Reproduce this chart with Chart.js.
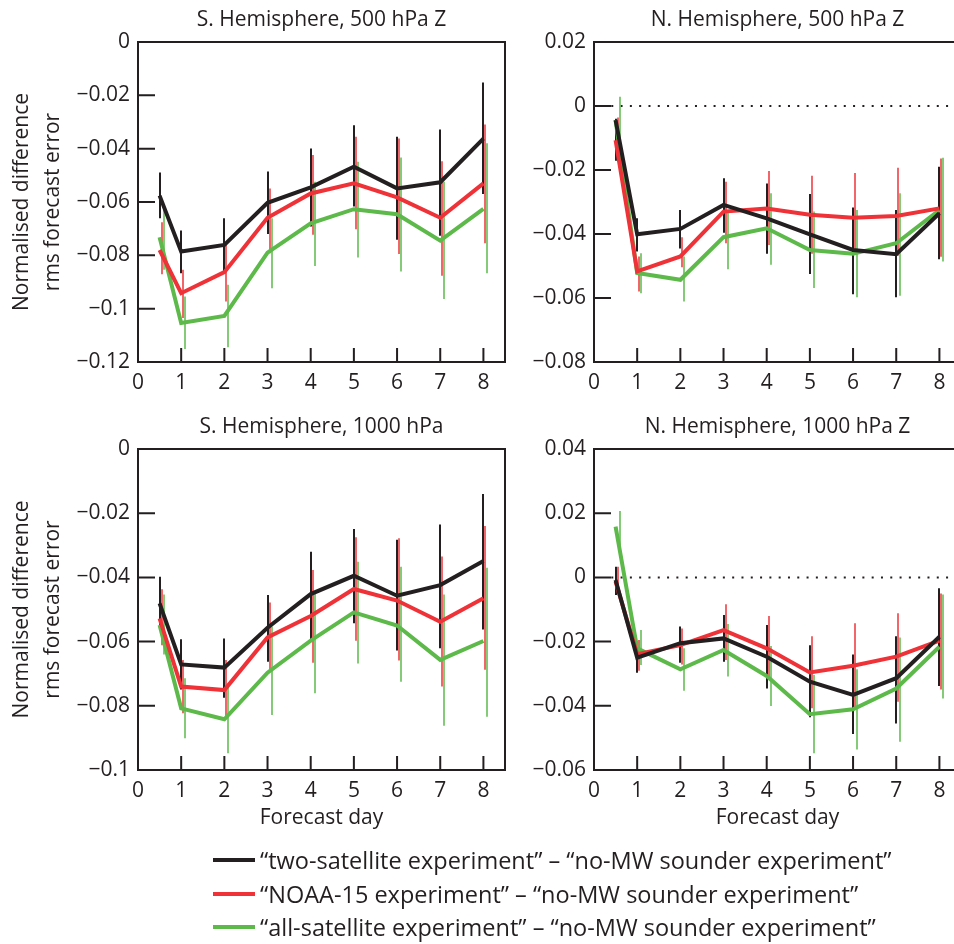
<!DOCTYPE html>
<html>
<head>
<meta charset="utf-8">
<script src="https://cdn.jsdelivr.net/npm/chart.js@4.4.1/dist/chart.umd.min.js"></script>
<style>
  body { margin: 0; width: 954px; height: 944px; overflow: hidden; background: #fff; position: relative; font-family: 'Open Sans', sans-serif; color: #231f20; }
  canvas { position: absolute; }
  .key { position: absolute; left: 213px; width: 42px; height: 4px; }
  .lbl { position: absolute; left: 260px; font-size: 23.5px; line-height: 30px; white-space: nowrap; }
</style>
</head>
<body>
<canvas id="sh500" width="520" height="420" style="left:0;top:0"></canvas>
<canvas id="nh500" width="520" height="420" style="left:456px;top:0"></canvas>
<canvas id="sh1000" width="520" height="440" style="left:0;top:407px"></canvas>
<canvas id="nh1000" width="520" height="440" style="left:456px;top:407px"></canvas>

<div class="key" style="top:858px;background:#231f20"></div>
<div class="lbl" style="top:845px">“two-satellite experiment” – “no-MW sounder experiment”</div>
<div class="key" style="top:892px;background:#ee3237"></div>
<div class="lbl" style="top:879px">“NOAA-15 experiment” – “no-MW sounder experiment”</div>
<div class="key" style="top:925px;background:#5db94a"></div>
<div class="lbl" style="top:912px">“all-satellite experiment” – “no-MW sounder experiment”</div>

<script>
// forecast days
const days = [0.5, 1, 2, 3, 4, 5, 6, 7, 8];

// S. Hemisphere, 500 hPa Z
const sh500Two   = [-0.0576, -0.0786, -0.0761, -0.0603, -0.0545, -0.0468, -0.0549, -0.0526, -0.0362];
const sh500TwoLo = [-0.0661, -0.0867, -0.0867, -0.0720, -0.0692, -0.0617, -0.0742, -0.0727, -0.0570];
const sh500TwoHi = [-0.0489, -0.0707, -0.0661, -0.0486, -0.0399, -0.0312, -0.0355, -0.0328, -0.0152];
const sh500Noaa   = [-0.0780, -0.0942, -0.0863, -0.0659, -0.0568, -0.0530, -0.0583, -0.0659, -0.0530];
const sh500NoaaLo = [-0.0871, -0.1035, -0.0973, -0.0792, -0.0723, -0.0702, -0.0795, -0.0877, -0.0755];
const sh500NoaaHi = [-0.0676, -0.0854, -0.0761, -0.0549, -0.0424, -0.0355, -0.0362, -0.0447, -0.0309];
const sh500All   = [-0.0732, -0.1054, -0.1027, -0.0790, -0.0680, -0.0627, -0.0646, -0.0745, -0.0626];
const sh500AllLo = [-0.0854, -0.1151, -0.1145, -0.0923, -0.0840, -0.0808, -0.0861, -0.0964, -0.0867];
const sh500AllHi = [-0.0617, -0.0954, -0.0910, -0.0661, -0.0524, -0.0449, -0.0433, -0.0524, -0.0380];

// N. Hemisphere, 500 hPa Z
const nh500Two   = [-0.0044, -0.0401, -0.0384, -0.0309, -0.0351, -0.0401, -0.0450, -0.0463, -0.0335];
const nh500TwoLo = [-0.0171, -0.0455, -0.0445, -0.0396, -0.0462, -0.0525, -0.0588, -0.0598, -0.0479];
const nh500TwoHi = [-0.0040, -0.0351, -0.0325, -0.0226, -0.0242, -0.0275, -0.0317, -0.0325, -0.0190];
const nh500Noaa   = [-0.0107, -0.0517, -0.0470, -0.0330, -0.0320, -0.0340, -0.0349, -0.0344, -0.0320];
const nh500NoaaLo = [-0.0150, -0.0580, -0.0504, -0.0429, -0.0434, -0.0462, -0.0462, -0.0468, -0.0471];
const nh500NoaaHi = [-0.0036, -0.0470, -0.0410, -0.0237, -0.0203, -0.0218, -0.0209, -0.0193, -0.0164];
const nh500All   = [-0.0044, -0.0522, -0.0543, -0.0410, -0.0382, -0.0450, -0.0462, -0.0429, -0.0325];
const nh500AllLo = [-0.0122, -0.0585, -0.0611, -0.0510, -0.0496, -0.0569, -0.0598, -0.0593, -0.0486];
const nh500AllHi = [ 0.0029, -0.0460, -0.0470, -0.0325, -0.0273, -0.0330, -0.0325, -0.0273, -0.0162];

// S. Hemisphere, 1000 hPa
const sh1000Two   = [-0.0481, -0.0671, -0.0681, -0.0557, -0.0452, -0.0395, -0.0457, -0.0424, -0.0349];
const sh1000TwoLo = [-0.0553, -0.0749, -0.0775, -0.0663, -0.0592, -0.0543, -0.0628, -0.0621, -0.0562];
const sh1000TwoHi = [-0.0398, -0.0593, -0.0590, -0.0455, -0.0320, -0.0249, -0.0283, -0.0235, -0.0140];
const sh1000Noaa   = [-0.0528, -0.0740, -0.0751, -0.0587, -0.0520, -0.0436, -0.0472, -0.0538, -0.0465];
const sh1000NoaaLo = [-0.0611, -0.0823, -0.0842, -0.0688, -0.0666, -0.0597, -0.0659, -0.0740, -0.0688];
const sh1000NoaaHi = [-0.0437, -0.0657, -0.0657, -0.0478, -0.0377, -0.0275, -0.0278, -0.0335, -0.0240];
const sh1000All   = [-0.0548, -0.0808, -0.0842, -0.0697, -0.0597, -0.0509, -0.0550, -0.0657, -0.0598];
const sh1000AllLo = [-0.0640, -0.0901, -0.0948, -0.0829, -0.0761, -0.0668, -0.0725, -0.0862, -0.0834];
const sh1000AllHi = [-0.0453, -0.0714, -0.0730, -0.0553, -0.0450, -0.0351, -0.0367, -0.0453, -0.0370];

// N. Hemisphere, 1000 hPa Z
const nh1000Two   = [-0.0008, -0.0250, -0.0205, -0.0190, -0.0247, -0.0325, -0.0366, -0.0314, -0.0185];
const nh1000TwoLo = [-0.0055, -0.0297, -0.0266, -0.0263, -0.0346, -0.0436, -0.0488, -0.0455, -0.0338];
const nh1000TwoHi = [ 0.0033, -0.0200, -0.0153, -0.0117, -0.0148, -0.0211, -0.0240, -0.0183, -0.0034];
const nh1000Noaa   = [-0.0013, -0.0239, -0.0211, -0.0164, -0.0221, -0.0296, -0.0275, -0.0247, -0.0197];
const nh1000NoaaLo = [-0.0050, -0.0291, -0.0271, -0.0257, -0.0318, -0.0408, -0.0408, -0.0387, -0.0349];
const nh1000NoaaHi = [ 0.0033, -0.0195, -0.0159, -0.0084, -0.0120, -0.0183, -0.0143, -0.0112, -0.0050];
const nh1000All   = [ 0.0158, -0.0221, -0.0286, -0.0226, -0.0307, -0.0426, -0.0411, -0.0346, -0.0216];
const nh1000AllLo = [ 0.0101, -0.0273, -0.0353, -0.0309, -0.0401, -0.0548, -0.0536, -0.0512, -0.0377];
const nh1000AllHi = [ 0.0207, -0.0164, -0.0221, -0.0145, -0.0214, -0.0304, -0.0286, -0.0187, -0.0053];

const ink = '#231f20';
const red = '#ee3237';
const green = '#5db94a';
const family = "'Open Sans', sans-serif";

// vertical error bars, dotted zero line, closed frame with inward ticks
const framePlugin = {
  id: 'frame',
  beforeDatasetsDraw(chart, args, opts) {
    const { ctx, chartArea: a, scales: { x, y } } = chart;
    ctx.save();
    if (opts.zero) {
      const y0 = y.getPixelForValue(0);
      ctx.setLineDash([2, 7.3]);
      ctx.lineWidth = 2;
      ctx.strokeStyle = ink;
      ctx.beginPath();
      ctx.moveTo(x.getPixelForValue(0.4), y0);
      ctx.lineTo(a.right, y0);
      ctx.stroke();
      ctx.setLineDash([]);
    }
    chart.data.datasets.forEach(ds => {
      ctx.strokeStyle = ds.borderColor;
      ctx.lineWidth = ds.barWidth;
      ds.data.forEach((p, j) => {
        const px = Math.round(x.getPixelForValue(p.x)) + ds.shift;
        ctx.beginPath();
        ctx.moveTo(px, y.getPixelForValue(ds.lo[j]));
        ctx.lineTo(px, y.getPixelForValue(ds.hi[j]));
        ctx.stroke();
      });
    });
    ctx.restore();
  },
  afterDraw(chart) {
    const { ctx, chartArea: a, scales: { x, y } } = chart;
    ctx.save();
    ctx.strokeStyle = ink;
    ctx.lineWidth = 2;
    ctx.beginPath();
    x.ticks.forEach(t => {
      const px = x.getPixelForValue(t.value);
      ctx.moveTo(px, a.bottom);
      ctx.lineTo(px, a.bottom - 14);
    });
    y.ticks.forEach(t => {
      const py = y.getPixelForValue(t.value);
      ctx.moveTo(a.left, py);
      ctx.lineTo(a.left + 17, py);
    });
    ctx.stroke();
    ctx.strokeRect(a.left, a.top, a.right - a.left, a.bottom - a.top);
    ctx.restore();
  }
};

function series(label, vals, lo, hi, color, shift, barWidth) {
  return {
    label,
    data: days.map((d, i) => ({ x: d, y: vals[i] })),
    lo, hi, shift, barWidth,
    borderColor: color,
    borderWidth: 4,
    pointRadius: 0,
    tension: 0,
    fill: false
  };
}

function fmt(v) {
  const r = Math.round(v * 100) / 100;
  if (r === 0) return '0';
  return String(r).replace('-', '\u2212');
}

function panel(id, title, ymin, ymax, left, bottom, zero, two, noaa, all) {
  new Chart(document.getElementById(id), {
    type: 'line',
    data: {
      datasets: [
        series('two-satellite', two[0], two[1], two[2], ink, 0, 2),
        series('NOAA-15', noaa[0], noaa[1], noaa[2], red, 2, 1.5),
        series('all-satellite', all[0], all[1], all[2], green, 4, 1.5)
      ]
    },
    options: {
      responsive: false,
      animation: false,
      devicePixelRatio: 1,
      layout: { padding: { left: 0, right: 15, top: 0, bottom: 0 } },
      plugins: {
        legend: { display: false },
        tooltip: { enabled: false },
        title: {
          display: true, text: title, fullSize: false, color: ink,
          font: { family, size: 21, weight: 'normal' },
          padding: { top: 7.4, bottom: 9.4 }
        },
        frame: { zero }
      },
      scales: {
        x: {
          type: 'linear', min: 0, max: 8.5,
          grid: { display: false, drawTicks: false },
          border: { display: false },
          ticks: { stepSize: 1, includeBounds: false, padding: 8, color: ink, font: { family, size: 21 } },
          title: {
            display: bottom, text: 'Forecast day', color: ink,
            font: { family, size: 21 }, padding: { top: 0, bottom: 16 }
          },
          afterFit: s => { s.height = bottom ? 77 : 58; }
        },
        y: {
          min: ymin, max: ymax,
          grid: { display: false, drawTicks: false },
          border: { display: false },
          ticks: { stepSize: 0.02, padding: 8, color: ink, font: { family, size: 21 }, callback: fmt },
          title: {
            display: left, text: ['Normalised difference', 'rms forecast error'], color: ink,
            font: { family, size: 21, lineHeight: 1.43 }, padding: { top: 7.5, bottom: 0 }
          },
          afterFit: s => { s.width = 138; }
        }
      }
    },
    plugins: [framePlugin]
  });
}

panel('sh500', 'S. Hemisphere, 500 hPa Z', -0.12, 0, true, false, false,
  [sh500Two, sh500TwoLo, sh500TwoHi], [sh500Noaa, sh500NoaaLo, sh500NoaaHi], [sh500All, sh500AllLo, sh500AllHi]);
panel('nh500', 'N. Hemisphere, 500 hPa Z', -0.08, 0.02, false, false, true,
  [nh500Two, nh500TwoLo, nh500TwoHi], [nh500Noaa, nh500NoaaLo, nh500NoaaHi], [nh500All, nh500AllLo, nh500AllHi]);
panel('sh1000', 'S. Hemisphere, 1000 hPa', -0.1, 0, true, true, false,
  [sh1000Two, sh1000TwoLo, sh1000TwoHi], [sh1000Noaa, sh1000NoaaLo, sh1000NoaaHi], [sh1000All, sh1000AllLo, sh1000AllHi]);
panel('nh1000', 'N. Hemisphere, 1000 hPa Z', -0.06, 0.04, false, true, true,
  [nh1000Two, nh1000TwoLo, nh1000TwoHi], [nh1000Noaa, nh1000NoaaLo, nh1000NoaaHi], [nh1000All, nh1000AllLo, nh1000AllHi]);
</script>
</body>
</html>
